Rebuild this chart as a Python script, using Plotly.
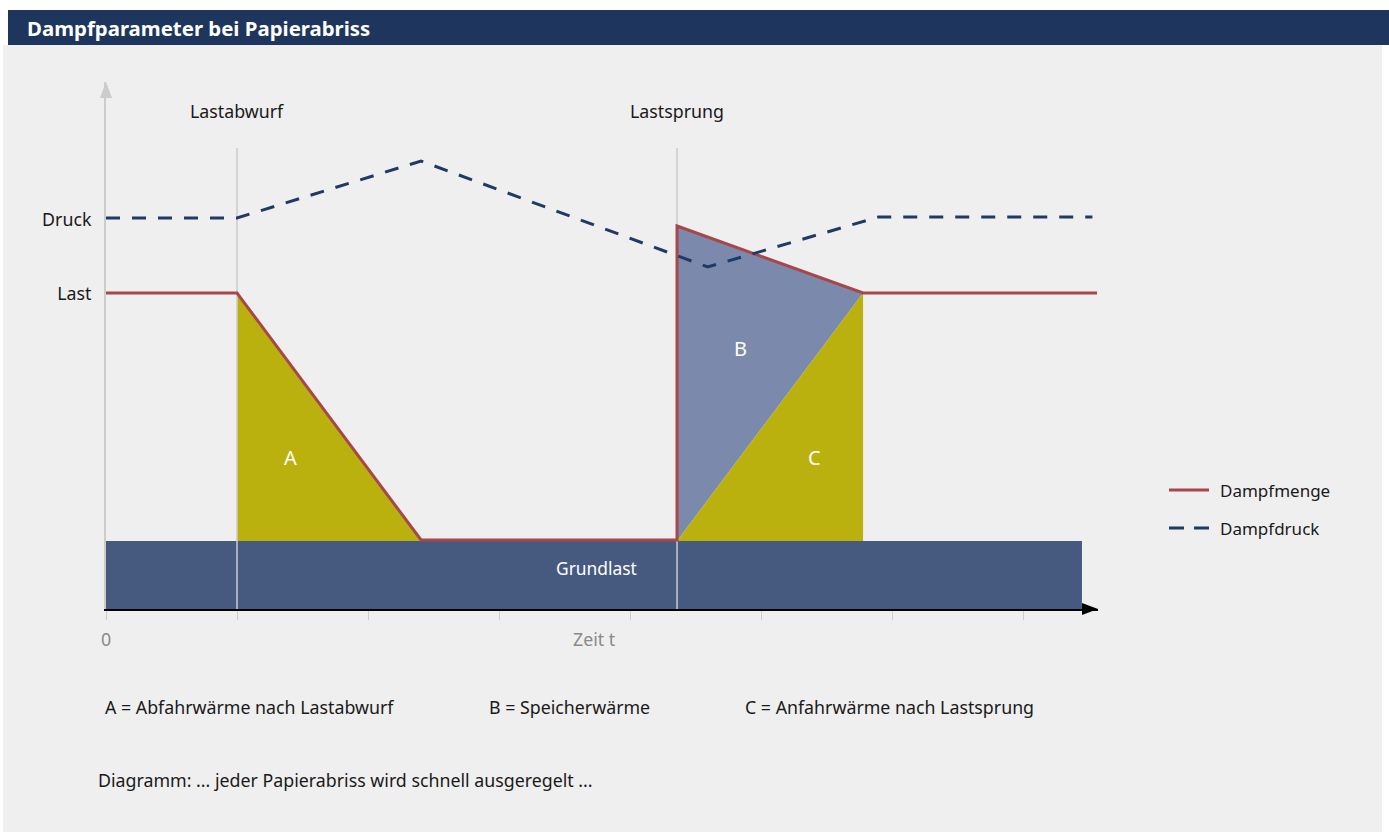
import plotly.graph_objects as go

# ---------------- data ----------------
# time axis: one tick = one time unit
t_ticks = [0, 1, 2, 3, 4, 5, 6, 7]
t_lastabwurf = 1.0
t_lastsprung = 4.359

# Dampfmenge (steam quantity)
t_menge = [0, 1.0, 2.405, 4.359, 4.359, 5.779, 7.565]
menge = [316, 316, 69, 69, 383, 316, 316]

# Dampfdruck (steam pressure)
t_druck = [0, 1.0, 2.405, 4.593, 5.896, 7.53]
druck = [391, 391, 448, 342, 392, 392]

# Grundlast (base load)
grundlast = 68
t_grund_end = 7.45

y_tick_vals = [389, 315]
y_tick_text = ["Druck", "Last"]

# ---------------- styling ----------------
FONT = "Noto Sans"
RED = "#a8474a"
NAVY = "#1f3a66"
YELLOW = "#bab10e"
BFILL = "#7b8aac"
GRUND = "#465a80"
VLINE = "#cccccc"
TXT = "#1a1a1a"
FS = 17.8

W, H = 1389, 832
L, R, T, B = 106, 1098, 82, 609   # plot area in px
XMAX = (R - L) / 131.0
YMAX = B - T


def px(xp):
    return (xp - L) / (R - L)


def py(yp):
    return (B - yp) / (B - T)


fig = go.Figure()

# Grundlast band
fig.add_trace(go.Scatter(
    x=[0, t_grund_end, t_grund_end, 0], y=[0, 0, grundlast, grundlast],
    fill="toself", fillcolor=GRUND, line=dict(width=0), mode="lines",
    hoverinfo="skip", showlegend=False))

# A: Abfahrwärme
fig.add_trace(go.Scatter(
    x=[t_menge[1], t_menge[2], t_menge[1]], y=[menge[1], grundlast, grundlast],
    fill="toself", fillcolor=YELLOW, line=dict(width=0), mode="lines",
    hoverinfo="skip", showlegend=False))

# B: Speicherwärme
fig.add_trace(go.Scatter(
    x=[t_menge[4], t_menge[5], t_menge[3]], y=[menge[4], menge[5], grundlast],
    fill="toself", fillcolor=BFILL, line=dict(width=0), mode="lines",
    hoverinfo="skip", showlegend=False))

# C: Anfahrwärme
fig.add_trace(go.Scatter(
    x=[t_menge[3], t_menge[5], t_menge[5]], y=[grundlast, menge[5], grundlast],
    fill="toself", fillcolor=YELLOW, line=dict(width=0), mode="lines",
    hoverinfo="skip", showlegend=False))

# event lines
for t in (t_lastabwurf, t_lastsprung):
    fig.add_trace(go.Scatter(
        x=[t, t], y=[0, 461], mode="lines", line=dict(color=VLINE, width=1.5),
        hoverinfo="skip", showlegend=False))

# Dampfmenge
fig.add_trace(go.Scatter(
    x=t_menge, y=menge, mode="lines", name="Dampfmenge",
    line=dict(color=RED, width=3), showlegend=False))

# Dampfdruck
fig.add_trace(go.Scatter(
    x=t_druck, y=druck, mode="lines", name="Dampfdruck",
    line=dict(color=NAVY, width=3, dash="14px,12px"), showlegend=False))

shapes = []
# background panel and title bar
shapes.append(dict(type="rect", xref="paper", yref="paper",
                   x0=px(3), x1=px(1382), y0=py(45), y1=py(832),
                   fillcolor="#efefef", line=dict(width=0), layer="below"))
shapes.append(dict(type="rect", xref="paper", yref="paper",
                   x0=px(8), x1=px(1389), y0=py(10), y1=py(45),
                   fillcolor="#1e365d", line=dict(width=0), layer="below"))
# x-axis arrowhead
shapes.append(dict(type="path", xref="paper", yref="paper",
                   path=f"M {px(1082)},{py(603)} L {px(1098)},{py(609)} L {px(1082)},{py(615)} Z",
                   fillcolor="black", line=dict(width=0)))
# y-axis arrowhead
shapes.append(dict(type="path", xref="paper", yref="paper",
                   path=f"M {px(100)},{py(98)} L {px(106)},{py(82)} L {px(112)},{py(98)} Z",
                   fillcolor="#cccccc", line=dict(width=0)))
# manual legend samples
shapes.append(dict(type="line", xref="paper", yref="paper",
                   x0=px(1169), x1=px(1209), y0=py(490), y1=py(490),
                   line=dict(color=RED, width=3)))
shapes.append(dict(type="line", xref="paper", yref="paper",
                   x0=px(1169), x1=px(1209), y0=py(528), y1=py(528),
                   line=dict(color=NAVY, width=3, dash="15px,10px")))

ann = []


def add_text(text, x, y, xref="x", yref="y", size=FS, color=TXT, xanchor="center", bold=False):
    ann.append(dict(text=f"<b>{text}</b>" if bold else text, x=x, y=y, xref=xref, yref=yref,
                    showarrow=False, xanchor=xanchor, yanchor="middle",
                    font=dict(family=FONT, size=size, color=color)))


add_text("Lastabwurf", t_lastabwurf, 498)
add_text("Lastsprung", t_lastsprung, 498)
add_text("A", 1.405, 152, size=20, color="white")
add_text("B", 4.847, 261, size=20, color="white")
add_text("C", 5.405, 152, size=20, color="white")
add_text("Grundlast", 3.748, 41, size=17.4, color="white")
add_text("0", px(106), py(639), "paper", "paper", color="#8a8a8a")
add_text("Zeit t", px(594), py(639), "paper", "paper", color="#8a8a8a")

add_text("Dampfmenge", px(1218), py(490), "paper", "paper", size=17, xanchor="left")
add_text("Dampfdruck", px(1218), py(528), "paper", "paper", size=17, xanchor="left")
add_text("A = Abfahrwärme nach Lastabwurf", px(103), py(707), "paper", "paper", xanchor="left")
add_text("B = Speicherwärme", px(487), py(707), "paper", "paper", xanchor="left")
add_text("C = Anfahrwärme nach Lastsprung", px(743), py(707), "paper", "paper", xanchor="left")
add_text("Diagramm: ... jeder Papierabriss wird schnell ausgeregelt ...", px(96), py(780),
         "paper", "paper", xanchor="left")
add_text("Dampfparameter bei Papierabriss", px(25), py(28), "paper", "paper",
         size=20.4, color="white", xanchor="left", bold=True)

fig.update_layout(
    width=W, height=H, autosize=False,
    margin=dict(l=L, r=W - R, t=T, b=H - B, pad=0),
    paper_bgcolor="white", plot_bgcolor="rgba(0,0,0,0)",
    shapes=shapes, annotations=ann,
    font=dict(family=FONT, size=FS, color=TXT),
    xaxis=dict(range=[0, XMAX], tickvals=t_ticks, ticks="outside", ticklen=9,
               tickwidth=1, tickcolor="#cccccc", showticklabels=False,
               showgrid=False, zeroline=False, showline=True, linecolor="black",
               linewidth=2, fixedrange=True),
    yaxis=dict(range=[0, YMAX], tickvals=y_tick_vals, ticktext=y_tick_text, ticks="",
               ticklabelstandoff=9, tickfont=dict(family=FONT, size=FS, color=TXT),
               showgrid=False, zeroline=False, showline=True, linecolor="#cccccc",
               linewidth=2, fixedrange=True),
)

fig.write_html("out.html")
